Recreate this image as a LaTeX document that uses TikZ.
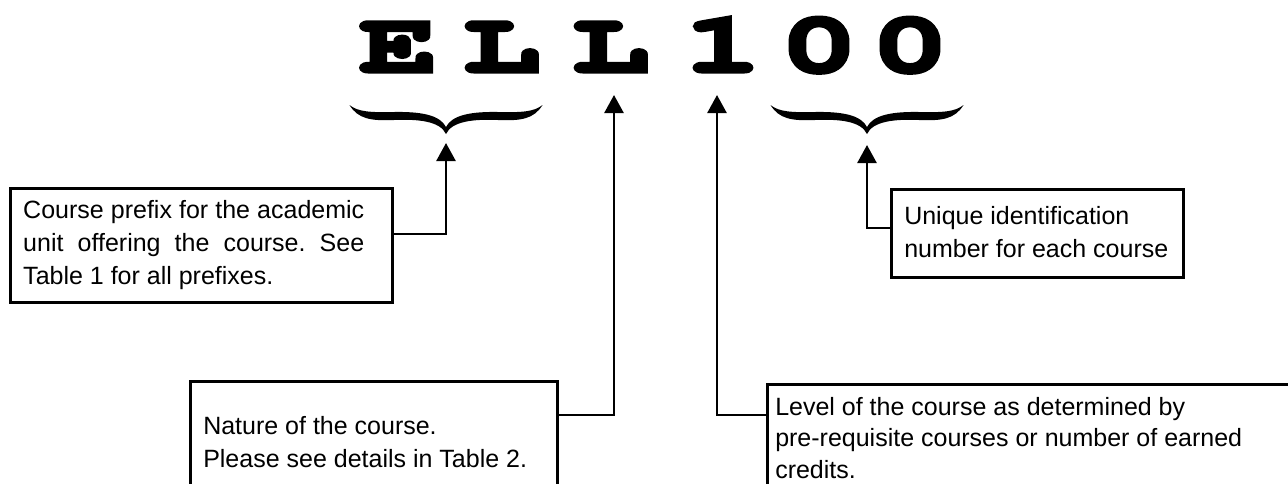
\documentclass[tikz,border=0pt]{standalone}
\usepackage[T1]{fontenc}
\usepackage{fontspec}
\usepackage{graphicx}
\usetikzlibrary{arrows.meta}
\newfontfamily\arialf{Liberation Sans}
\newcommand\heavyglyph[1]{\scalebox{1.5}[1]{\special{pdf:literal 2 Tr 3.2 w 0 j}#1\special{pdf:literal 0 Tr}}}
\tikzset{
  lt/.style={inner sep=0pt, anchor=base,
    font=\fontencoding{T1}\fontfamily{pcr}\fontseries{b}\fontsize{86}{86}\selectfont},
  box/.style={draw, line width=2.5pt, inner ysep=0pt, anchor=north west,
    font=\arialf\fontsize{25}{33}\selectfont\frenchspacing},
  arr/.style={line width=2.5pt, -{Triangle[length=18pt,width=19pt]}},
  curly/.pic={
    \fill (-96.5,0) .. controls (-88,14) and (-75,16) .. (-52,15)
      .. controls (-28,14) and (-6,16) .. (0,29)
      .. controls (6,16) and (28,14) .. (52,15)
      .. controls (75,16) and (88,14) .. (96.5,0)
      .. controls (88,7) and (75,7.5) .. (52,7)
      .. controls (25,6.5) and (6,10) .. (0,22)
      .. controls (-6,10) and (-25,6.5) .. (-52,7)
      .. controls (-75,7.5) and (-88,7) .. (-96.5,0) -- cycle;
  }
}
\begin{document}
\begin{tikzpicture}[x=1pt,y=-1pt]
\useasboundingbox (0,0) rectangle (1288,483);
\clip (0,0) rectangle (1288,483);
% code letters
\node[lt] (c1) at (398.5,72) {\heavyglyph{E}};
\node[lt] (c2) at (501.5,72) {\heavyglyph{L}};
\node[lt] (c3) at (610.5,72) {\heavyglyph{L}};
\node[lt] (c4) at (723,72) {\heavyglyph{1}};
\node[lt] (c5) at (819,72) {\heavyglyph{0}};
\node[lt] (c6) at (910,72) {\heavyglyph{0}};
% braces
\pic at (446,105) {curly};
\pic at (867,105) {curly};
% arrow tips
\coordinate (tA) at (446,143);
\coordinate (tB) at (614,95);
\coordinate (tC) at (717,95);
\coordinate (tD) at (867,145);
% boxes
\node[box, inner xsep=13pt] (b1) at (9,187)
  {\parbox[t]{356pt}{\rightskip=15pt\relax\rule{0pt}{30pt}Course prefix for the academic\linebreak unit offering the course. See\linebreak Table 1 for all prefixes.\rule[-18pt]{0pt}{18pt}}};
\node[box, inner xsep=13pt] (b2) at (890,188)
  {\parbox[t]{266pt}{\raggedright\rule{0pt}{35pt}Unique identification\\ number for each course\rule[-20pt]{0pt}{20pt}}};
\node[box, inner xsep=13pt] (b3) at (189,380)
  {\parbox[t]{341pt}{\raggedright\rule{0pt}{53pt}Nature of the course.\\ Please see details in Table 2.\rule[-40pt]{0pt}{40pt}}};
\node[box, inner xsep=8pt] (b4) at (766,383)
  {\parbox[t]{620pt}{\raggedright\baselineskip=31.5pt\rule{0pt}{31pt}Level of the course as determined by\\ pre-requisite courses or number of earned\\ credits.\rule[-30pt]{0pt}{30pt}}};
% connectors
\draw[arr] ([yshift=-47pt]b1.north east) -| (tA);
\draw[arr] ([yshift=-35pt]b3.north east) -| (tB);
\draw[arr] ([yshift=-32pt]b4.north west) -| (tC);
\draw[arr] ([yshift=-40pt]b2.north west) -| (tD);
\end{tikzpicture}
\end{document}
